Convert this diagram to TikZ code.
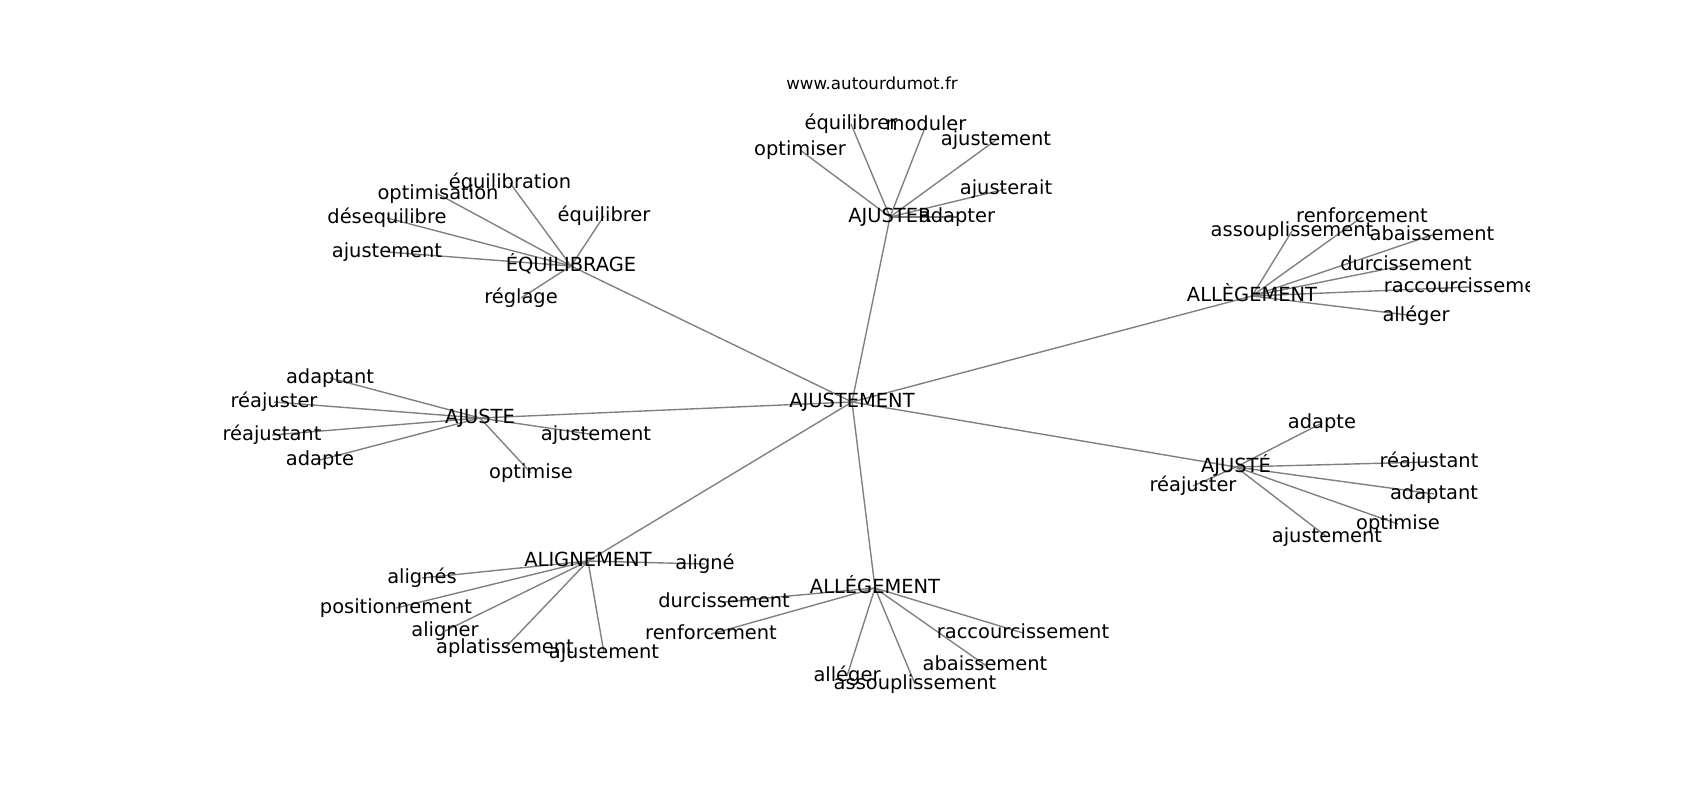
\documentclass[tikz,border=0pt]{standalone}
\usepackage{fontspec}
\setmainfont{DejaVu Sans}
\pgfdeclarelayer{edgelayer}
\pgfsetlayers{edgelayer,main}
\begin{document}
\begin{tikzpicture}[x=0.72pt,y=-0.72pt,
  lbl/.style={font=\fontsize{14}{16}\selectfont, inner sep=0pt, text height=10.6pt, text depth=3.4pt, anchor=center},
  edge/.style={draw=black!50, line width=1pt}]
\useasboundingbox (0,0) rectangle (1700,800);
% title
\node[font=\fontsize{12}{14}\selectfont, inner sep=0pt] (title) at (872,83) {www.autourdumot.fr};
% hubs
\node[lbl] (root) at (852,402) {AJUSTEMENT};
\node[lbl] (ajuster) at (890,217) {AJUSTER};
\node[lbl] (equil) at (571,266) {ÉQUILIBRAGE};
\node[lbl] (allegr) at (1252,296) {ALLÈGEMENT};
\node[lbl] (ajuste) at (480,418) {AJUSTE};
\node[lbl] (ajustee) at (1236,467) {AJUSTÉ};
\node[lbl] (align) at (588,561) {ALIGNEMENT};
\node[lbl] (allega) at (875,588) {ALLÉGEMENT};
% AJUSTER leaves
\node[lbl] (a1) at (800,150) {optimiser};
\node[lbl] (a2) at (851,124) {équilibrer};
\node[lbl] (a3) at (926,125) {moduler};
\node[lbl] (a4) at (996,140) {ajustement};
\node[lbl] (a5) at (1006,189) {ajusterait};
\node[lbl] (a6) at (957,217) {adapter};
% EQUILIBRAGE leaves
\node[lbl] (e1) at (510,183) {équilibration};
\node[lbl] (e2) at (438,194) {optimisation};
\node[lbl] (e3) at (387,218) {désequilibre};
\node[lbl] (e4) at (604,216) {équilibrer};
\node[lbl] (e5) at (387,252) {ajustement};
\node[lbl] (e6) at (521,298) {réglage};
% ALLEGEMENT (grave) leaves
\node[lbl] (g1) at (1292,231) {assouplissement};
\node[lbl] (g2) at (1362,217) {renforcement};
\node[lbl] (g3) at (1432,235) {abaissement};
\node[lbl] (g4) at (1406,265) {durcissement};
\begin{scope}
\clip (0,0) rectangle (1529,800);
\node[lbl] (g5) at (1470,287) {raccourcissement};
\end{scope}
\node[lbl] (g6) at (1416,316) {alléger};
% AJUSTE leaves
\node[lbl] (j1) at (330,378) {adaptant};
\node[lbl] (j2) at (274,402) {réajuster};
\node[lbl] (j3) at (272,435) {réajustant};
\node[lbl] (j4) at (320,460) {adapte};
\node[lbl] (j5) at (531,473) {optimise};
\node[lbl] (j6) at (596,435) {ajustement};
% AJUSTÉ leaves
\node[lbl] (k1) at (1322,423) {adapte};
\node[lbl] (k2) at (1429,462) {réajustant};
\node[lbl] (k3) at (1434,494) {adaptant};
\node[lbl] (k4) at (1398,524) {optimise};
\node[lbl] (k5) at (1327,537) {ajustement};
\node[lbl] (k6) at (1193,486) {réajuster};
% ALIGNEMENT leaves
\node[lbl] (l1) at (422,578) {alignés};
\node[lbl] (l2) at (396,608) {positionnement};
\node[lbl] (l3) at (445,631) {aligner};
\node[lbl] (l4) at (505,648) {aplatissement};
\node[lbl] (l5) at (604,653) {ajustement};
\node[lbl] (l6) at (705,564) {aligné};
% ALLÉGEMENT (acute) leaves
\node[lbl] (m1) at (724,602) {durcissement};
\node[lbl] (m2) at (711,634) {renforcement};
\node[lbl] (m3) at (1023,633) {raccourcissement};
\node[lbl] (m4) at (985,665) {abaissement};
\node[lbl] (m5) at (847,676) {alléger};
\node[lbl] (m6) at (915,684) {assouplissement};
% edges (behind the texts)
\begin{pgfonlayer}{edgelayer}
\foreach \h in {ajuster,equil,allegr,ajuste,ajustee,align,allega}
  \draw[edge] (root.center) -- (\h.center);
\foreach \l in {a1,a2,a3,a4,a5,a6} \draw[edge] (ajuster.center) -- (\l.center);
\foreach \l in {e1,e2,e3,e4,e5,e6} \draw[edge] (equil.center) -- (\l.center);
\foreach \l in {g1,g2,g3,g4,g5,g6} \draw[edge] (allegr.center) -- (\l.center);
\foreach \l in {j1,j2,j3,j4,j5,j6} \draw[edge] (ajuste.center) -- (\l.center);
\foreach \l in {k1,k2,k3,k4,k5,k6} \draw[edge] (ajustee.center) -- (\l.center);
\foreach \l in {l1,l2,l3,l4,l5,l6} \draw[edge] (align.center) -- (\l.center);
\foreach \l in {m1,m2,m3,m4,m5,m6} \draw[edge] (allega.center) -- (\l.center);
\end{pgfonlayer}
\end{tikzpicture}
\end{document}
